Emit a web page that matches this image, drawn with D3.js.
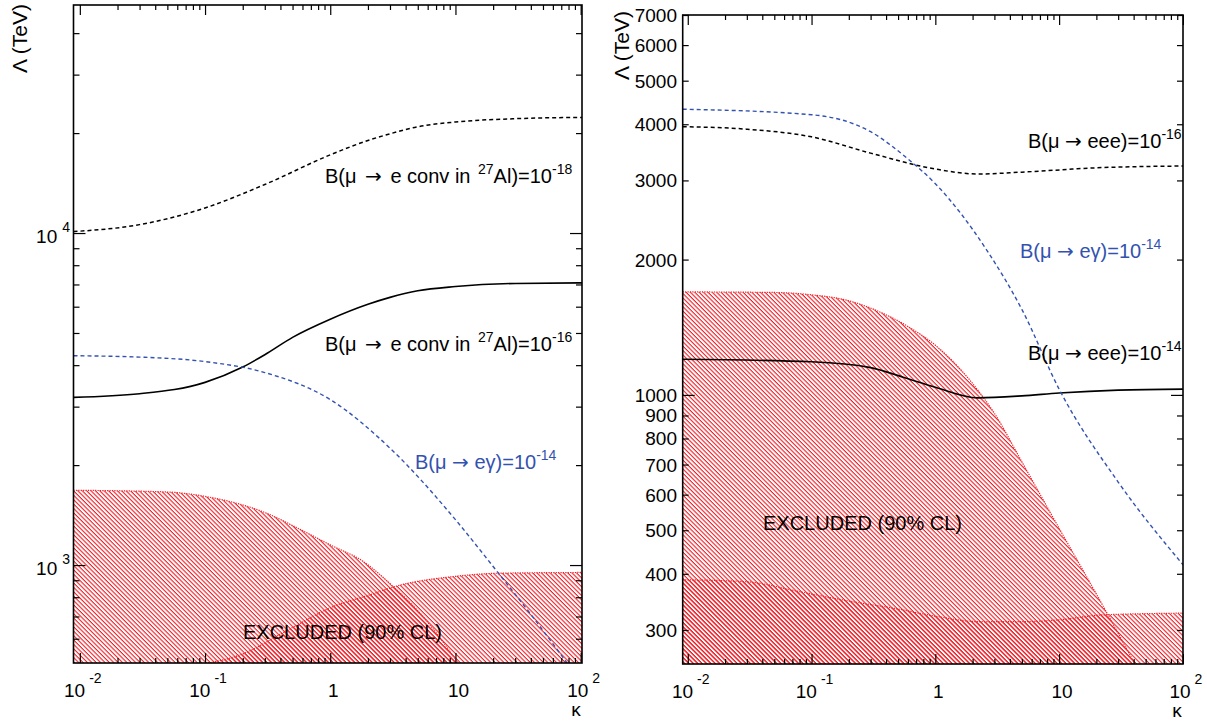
<!DOCTYPE html>
<html>
<head>
<meta charset="utf-8">
<script src="https://cdn.jsdelivr.net/npm/d3@7"></script>
<style>
  body { margin: 0; background: #fff; }
  svg { display: block; font-family: "Liberation Sans", Arial, sans-serif; }
</style>
</head>
<body>
<svg id="canvas" width="1207" height="724"></svg>
<script>
// ---- data: [kappa, Lambda (TeV)] ----
// left panel (mu -> e conversion in Al)
let convAl18 = [[0.0089, 10100], [0.03, 10600], [0.1, 11900], [0.3, 14000], [1, 17200], [2, 19000], [3, 19900], [5, 20900], [10, 21600], [30, 22100], [102.5, 22300]]
let convAl16 = [[0.0089, 3200], [0.03, 3280], [0.1, 3550], [0.2, 3950], [0.3, 4300], [0.5, 4850], [1, 5500], [2, 6100], [3, 6400], [5, 6700], [10, 6900], [30, 7050], [102.5, 7080]]
let megLeft = [[0.0089, 4270], [0.03, 4230], [0.1, 4100], [0.3, 3800], [1, 3150], [3, 2250], [10, 1370], [20, 990], [40, 710], [102.5, 440]]
let excludedLeftA = [[0.0089, 1680], [0.05, 1660], [0.1, 1610], [0.3, 1440], [0.6, 1270], [1, 1150], [1.8, 1030], [3.2, 860], [5.5, 700], [10, 520], [12, 470]]
let excludedLeftB = [[0.085, 500], [0.2, 540], [0.45, 635], [1.1, 755], [2, 810], [3.4, 865], [10, 925], [22, 945], [102.5, 950]]

// right panel (mu -> eee)
let eee16 = [[0.0091, 3950], [0.03, 3900], [0.1, 3750], [0.3, 3450], [1, 3180], [2.2, 3100], [5, 3130], [20, 3200], [100.2, 3230]]
let eee14 = [[0.0091, 1200], [0.1, 1185], [0.3, 1150], [0.55, 1095], [1, 1040], [2.2, 985], [5, 995], [10, 1010], [30, 1025], [100.2, 1030]]
let megRight = [[0.0091, 4320], [0.1, 4200], [0.3, 3850], [0.6, 3350], [1, 2950], [2.6, 2100], [5, 1550], [10, 1030], [30, 640], [100.2, 419]]
let excludedRightA = [[0.0091, 1695], [0.05, 1690], [0.1, 1670], [0.2, 1620], [0.3, 1560], [0.6, 1420], [1, 1290], [2, 1060], [3, 910], [5, 710], [10, 505], [15, 415], [25, 323], [40, 255], [50, 228]]
let excludedRightB = [[0.0091, 388], [0.03, 384], [0.08, 365], [0.2, 348], [0.5, 334], [1, 322], [2.3, 313], [5, 313], [10, 316], [22, 324], [100.2, 327]]

// ticks
let xMajor = [0.01, 0.1, 1, 10, 100]
let xMinor = [0.01, 0.1, 1, 10].flatMap(d => [2, 3, 4, 5, 6, 7, 8, 9].map(m => d * m))
let xLabels = [['10', '-2'], ['10', '-1'], ['1', ''], ['10', ''], ['10', '2']]

let leftMajor = [1000, 10000]
let leftMinor = [600, 700, 800, 900, 2000, 3000, 4000, 5000, 6000, 7000, 8000, 9000, 20000, 30000, 40000]
let leftLabels = [['10', '3'], ['10', '4']]

let rightMajor = [1000]
let rightMinor = [300, 400, 500, 600, 700, 800, 900, 2000, 3000, 4000, 5000, 6000, 7000]
let rightLabels = [300, 400, 500, 600, 700, 800, 900, 1000, 2000, 3000, 4000, 5000, 6000, 7000]

let red = '#ee1c24'
let blue = '#3352b0'

let svg = d3.select('#canvas')
let defs = svg.append('defs')

let hatch = defs.append('pattern')
    .attr('id', 'hatch')
    .attr('patternUnits', 'userSpaceOnUse')
    .attr('width', 6)
    .attr('height', 3.1)
    .attr('patternTransform', 'rotate(45)')
hatch.append('rect')
    .attr('x', 0).attr('y', 0)
    .attr('width', 6).attr('height', 1.1)
    .attr('fill', red)

let addText = (g, x, y, parts, opts) => {
    let t = g.append('text')
        .attr('x', x).attr('y', y)
        .attr('font-size', opts.size || 20)
        .attr('fill', opts.color || '#000')
        .attr('text-anchor', opts.anchor || 'start')
    let raised = false
    parts.forEach(p => {
        let s = t.append('tspan').text(p.t)
        if (p.font) s.attr('font-family', p.font)
        if (p.sup) {
            s.attr('font-size', opts.supSize || 14).attr('dy', -(opts.lift || 9))
            if (p.dx) s.attr('dx', p.dx)
            raised = true
        } else if (raised) {
            s.attr('dy', opts.lift || 9)
            raised = false
        } else if (p.dx) {
            s.attr('dx', p.dx)
        }
    })
    return t
}

let drawPanel = (cfg) => {
    let x = d3.scaleLog().domain(cfg.xDom).range([cfg.x0, cfg.x1])
    let y = d3.scaleLog().domain(cfg.yDom).range([cfg.y1, cfg.y0])
    let g = svg.append('g')

    defs.append('clipPath').attr('id', cfg.id + 'clip')
        .append('rect')
        .attr('x', cfg.x0).attr('y', cfg.y0)
        .attr('width', cfg.x1 - cfg.x0).attr('height', cfg.y1 - cfg.y0)

    let plot = g.append('g').attr('clip-path', 'url(#' + cfg.id + 'clip)')

    let area = d3.area()
        .x(d => x(d[0]))
        .y0(cfg.y1 + 20)
        .y1(d => y(d[1]))
        .curve(d3.curveMonotoneX)
    let line = d3.line()
        .x(d => x(d[0]))
        .y(d => y(d[1]))
        .curve(d3.curveMonotoneX)

    cfg.regions.forEach(r => {
        plot.append('path')
            .attr('d', area(r))
            .attr('fill', 'url(#hatch)')
        plot.append('path')
            .attr('d', line(r))
            .attr('fill', 'none')
            .attr('stroke', red)
            .attr('stroke-width', 1.2)
            .attr('stroke-dasharray', '1.2,1.2')
    })

    cfg.curves.forEach(c => {
        plot.append('path')
            .attr('d', line(c.data))
            .attr('fill', 'none')
            .attr('stroke', c.color)
            .attr('stroke-width', c.width)
            .attr('stroke-dasharray', c.dash)
    })

    // ticks on all four sides, pointing inward
    let ticks = (gen, scale, vals, size, tr) => {
        g.append('g')
            .attr('transform', tr)
            .call(gen(scale).tickValues(vals).tickSize(size).tickSizeOuter(0).tickFormat(''))
            .call(s => s.select('.domain').remove())
            .selectAll('line').attr('stroke', '#000').attr('stroke-width', 1.2)
    }
    ticks(d3.axisBottom, x, xMajor, -10, 'translate(0,' + cfg.y1 + ')')
    ticks(d3.axisBottom, x, xMinor, -5, 'translate(0,' + cfg.y1 + ')')
    ticks(d3.axisTop, x, xMajor, -10, 'translate(0,' + cfg.y0 + ')')
    ticks(d3.axisTop, x, xMinor, -5, 'translate(0,' + cfg.y0 + ')')
    ticks(d3.axisLeft, y, cfg.yMajor, -12, 'translate(' + cfg.x0 + ',0)')
    ticks(d3.axisLeft, y, cfg.yMinor, -6, 'translate(' + cfg.x0 + ',0)')
    ticks(d3.axisRight, y, cfg.yMajor, -12, 'translate(' + cfg.x1 + ',0)')
    ticks(d3.axisRight, y, cfg.yMinor, -6, 'translate(' + cfg.x1 + ',0)')

    g.append('rect')
        .attr('x', cfg.x0).attr('y', cfg.y0)
        .attr('width', cfg.x1 - cfg.x0).attr('height', cfg.y1 - cfg.y0)
        .attr('fill', 'none')
        .attr('stroke', '#000')
        .attr('stroke-width', 1.6)

    // x tick labels
    xMajor.forEach((v, i) => {
        let lab = xLabels[i]
        let parts = [{ t: lab[0] }]
        if (lab[1]) parts.push({ t: lab[1], sup: true, dx: 4 })
        addText(g, x(v) + 3, cfg.y1 + 34, parts, { size: 19, supSize: 14, lift: 14, anchor: 'middle' })
    })

    // kappa
    g.append('text')
        .attr('x', cfg.x1 - 6).attr('y', cfg.y1 + 53)
        .attr('font-size', 19)
        .attr('text-anchor', 'middle')
        .text('κ')

    // Lambda axis title
    g.append('text')
        .attr('transform', 'translate(' + cfg.titleX + ',' + cfg.titleY + ') rotate(-90)')
        .attr('font-size', 21)
        .attr('text-anchor', 'end')
        .text('Λ (TeV)')

    return { x, y, g }
}

// left panel
let left = drawPanel({
    id: 'left', x0: 73.5, x1: 582, y0: 5, y1: 663,
    xDom: [0.0089, 102.5], yDom: [507, 48620],
    yMajor: leftMajor, yMinor: leftMinor,
    titleX: 27, titleY: 4,
    regions: [excludedLeftA, excludedLeftB],
    curves: [
        { data: convAl18, color: '#000', width: 1.5, dash: '4,3' },
        { data: convAl16, color: '#000', width: 1.6, dash: null },
        { data: megLeft, color: blue, width: 1.4, dash: '4,3' }
    ]
})
leftMajor.forEach((v, i) => {
    addText(left.g, 70, left.y(v) + 10, [{ t: leftLabels[i][0] }, { t: leftLabels[i][1], sup: true, dx: 5 }],
        { size: 19, supSize: 14, lift: 11, anchor: 'end' })
})

// right panel
let right = drawPanel({
    id: 'right', x0: 682.7, x1: 1183, y0: 15, y1: 664,
    xDom: [0.0091, 100.2], yDom: [252, 7000],
    yMajor: rightMajor, yMinor: rightMinor,
    titleX: 629, titleY: 11,
    regions: [excludedRightA, excludedRightB],
    curves: [
        { data: eee16, color: '#000', width: 1.5, dash: '4,3' },
        { data: eee14, color: '#000', width: 1.6, dash: null },
        { data: megRight, color: blue, width: 1.4, dash: '4,3' }
    ]
})
rightLabels.forEach(v => {
    right.g.append('text')
        .attr('x', 677).attr('y', right.y(v) + 7)
        .attr('font-size', 19)
        .attr('text-anchor', 'end')
        .text(v)
})

// curve labels
let conv = (e) => [{ t: 'B(μ ' }, { t: '→', font: 'DejaVu Sans', dx: 3 }, { t: ' e conv in ', dx: 3 }, { t: '27', sup: true, dx: 2 }, { t: 'Al)=10' }, { t: e, sup: true }]
let eee = (e) => [{ t: 'B(μ ' }, { t: '→', font: 'DejaVu Sans' }, { t: ' eee)=10' }, { t: e, sup: true }]
let meg = [{ t: 'B(μ ' }, { t: '→', font: 'DejaVu Sans' }, { t: ' eγ)=10' }, { t: '-14', sup: true }]

addText(left.g, 325, 183, conv('-18'), {})
addText(left.g, 325, 351, conv('-16'), {})
addText(left.g, 415, 469, meg, { color: blue })
addText(left.g, 243, 639, [{ t: 'EXCLUDED (90% CL)' }], {})

addText(right.g, 1028, 148, eee('-16'), {})
addText(right.g, 1020, 258, meg, { color: blue })
addText(right.g, 1028, 360, eee('-14'), {})
addText(right.g, 763, 530, [{ t: 'EXCLUDED (90% CL)' }], {})
</script>
</body>
</html>
